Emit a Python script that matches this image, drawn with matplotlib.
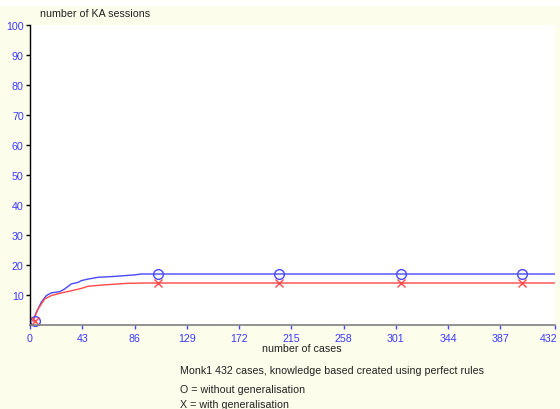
import matplotlib
matplotlib.use("Agg")
import matplotlib.pyplot as plt
from matplotlib.patches import Rectangle
import matplotlib.transforms as mtransforms

# Data
blue_x = [2.5, 5.2, 9.3, 13.4, 17.5, 24.4, 28.5, 34, 39.5, 42.3, 47.7, 56, 69.7, 86, 91.6, 95, 432]
blue_y = [1.4, 4.2, 7.6, 9.8, 10.7, 11.1, 12.0, 13.7, 14.2, 14.8, 15.3, 15.9, 16.2, 16.7, 17.0, 17.0, 17.0]
red_x = [2.5, 6.6, 12.1, 17.5, 25.8, 34, 42.3, 47.7, 58.7, 80.7, 94.4, 100, 432]
red_y = [1.4, 5.3, 8.7, 9.8, 10.7, 11.4, 12.2, 12.9, 13.3, 13.9, 14.0, 14.0, 14.0]
mark_x = [4.5, 105, 205, 305, 405]
mark_o_y = [1.4, 17, 17, 17, 17]
mark_x_y = [1.4, 14, 14, 14, 14]

xticks = [0, 43, 86, 129, 172, 215, 258, 301, 344, 387, 432]
yticks = [10, 20, 30, 40, 50, 60, 70, 80, 90, 100]

title_y = "number of KA sessions"
title_x = "number of cases"
notes = ["Monk1 432 cases, knowledge based created using perfect rules",
         "O = without generalisation",
         "X = with generalisation"]

BG = "#fdfdec"
BLUE = "#4848ff"
RED = "#ff4848"
TICKC = "#3a3aff"
FS = 7.7

plt.rcParams['font.family'] = ['Liberation Sans', 'DejaVu Sans']

fig = plt.figure(figsize=(5.6, 4.1), dpi=100, facecolor=BG)
W, H = 560, 410
fig.patches.append(Rectangle((0, 1 - 7 / H), 1, 7 / H, transform=fig.transFigure,
                             facecolor="white", edgecolor="none", zorder=-1))

ax = fig.add_axes([30 / W, 1 - 326 / H, (555 - 30) / W, (326 - 26) / H])
ax.set_facecolor("white")

ax.plot(blue_x, blue_y, color=BLUE, lw=1)
ax.plot(red_x, red_y, color=RED, lw=1)
ax.plot(mark_x, mark_o_y, linestyle="none", marker="o", markersize=7,
        markerfacecolor="none", markeredgecolor=BLUE, markeredgewidth=1, clip_on=False)
ax.plot(mark_x, mark_x_y, linestyle="none", marker="x", markersize=6,
        markeredgecolor=RED, markeredgewidth=1, clip_on=False)

ax.set_xlim(0, 432)
ax.set_ylim(0, 100)
ax.set_xticks(xticks)
ax.set_xticklabels([str(t) for t in xticks])
ax.set_yticks(yticks)
ax.set_yticklabels([str(t) for t in yticks])

for s in ["top", "right"]:
    ax.spines[s].set_visible(False)
ax.spines["left"].set_color("black")
ax.spines["left"].set_linewidth(1)
ax.spines["bottom"].set_color("#808080")
ax.spines["bottom"].set_linewidth(1.2)

ax.tick_params(axis="both", direction="out", length=3, width=1, labelsize=FS,
               labelcolor=TICKC)
ax.tick_params(axis="x", colors=BLUE, labelcolor=TICKC, pad=3)
ax.tick_params(axis="y", colors="black", labelcolor=TICKC, pad=1.5)

# shift the last x label slightly left so it stays inside the figure
last = ax.get_xticklabels()[-1]
last.set_transform(last.get_transform() + mtransforms.ScaledTranslation(-6 / 100, 0, fig.dpi_scale_trans))

fig.text(40 / W, 1 - 14 / H, title_y, fontsize=FS, color="#222222", va="center", ha="left")
fig.text(302 / W, 1 - 349 / H, title_x, fontsize=FS, color="#222222", va="center", ha="center")
ys = [371, 390, 405]
for t, yy in zip(notes, ys):
    fig.text(180 / W, 1 - yy / H, t, fontsize=FS, color="#222222", va="center", ha="left")

fig.savefig("out.png", dpi=100, facecolor=BG)
